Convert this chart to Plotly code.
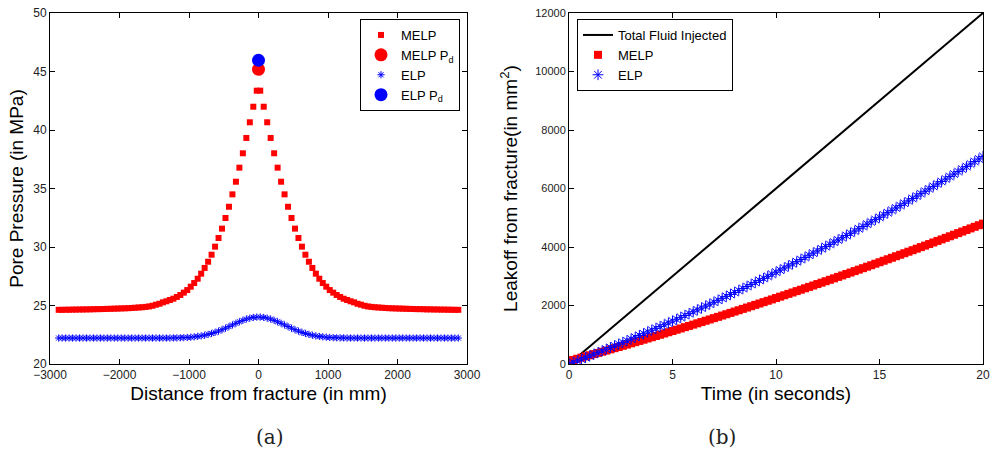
import numpy as np
import plotly.graph_objects as go

# ---------------- Panel (a): pore pressure vs distance from the fracture ----------------
distance_mm = np.arange(-2875, 2876, 50)

melp_left = [24.63, 24.63, 24.64, 24.64, 24.65, 24.65, 24.66, 24.66, 24.67, 24.67,
             24.68, 24.69, 24.69, 24.70, 24.71, 24.72, 24.73, 24.74, 24.75, 24.76,
             24.77, 24.79, 24.81, 24.83, 24.85, 24.88, 24.92, 24.98, 25.07, 25.15,
             25.27, 25.36, 25.47, 25.58, 25.73, 25.90, 26.10, 26.32, 26.61, 26.92,
             27.29, 27.72, 28.21, 28.74, 29.34, 30.03, 30.77, 31.57, 32.48, 33.44,
             34.50, 35.58, 36.78, 38.01, 39.32, 40.66, 41.99, 43.36]
melp_right = [43.36, 41.99, 40.66, 39.32, 38.01, 36.78, 35.58, 34.50, 33.44, 32.48,
              31.57, 30.77, 30.03, 29.34, 28.74, 28.21, 27.72, 27.29, 26.92, 26.61,
              26.32, 26.10, 25.90, 25.73, 25.58, 25.47, 25.36, 25.27, 25.15, 25.07,
              24.98, 24.92, 24.88, 24.85, 24.83, 24.81, 24.79, 24.77, 24.76, 24.75,
              24.74, 24.73, 24.72, 24.71, 24.70, 24.69, 24.69, 24.68, 24.67, 24.67,
              24.66, 24.66, 24.65, 24.65, 24.64, 24.64, 24.63, 24.63]

elp_left = [22.22, 22.22, 22.22, 22.22, 22.22, 22.22, 22.22, 22.22, 22.22, 22.22,
            22.22, 22.22, 22.22, 22.22, 22.22, 22.22, 22.22, 22.22, 22.22, 22.22,
            22.22, 22.22, 22.22, 22.22, 22.22, 22.22, 22.22, 22.22, 22.22, 22.22,
            22.22, 22.22, 22.22, 22.23, 22.23, 22.24, 22.25, 22.27, 22.29, 22.32,
            22.36, 22.40, 22.46, 22.53, 22.61, 22.70, 22.81, 22.93, 23.06, 23.20,
            23.34, 23.48, 23.61, 23.73, 23.84, 23.92, 23.98, 24.01]
elp_right = [24.01, 23.98, 23.92, 23.84, 23.73, 23.61, 23.48, 23.34, 23.20, 23.06,
             22.93, 22.81, 22.70, 22.61, 22.53, 22.46, 22.40, 22.36, 22.32, 22.29,
             22.27, 22.25, 22.24, 22.23, 22.23, 22.22, 22.22, 22.22, 22.22, 22.22,
             22.22, 22.22, 22.22, 22.22, 22.22, 22.22, 22.22, 22.22, 22.22, 22.22,
             22.22, 22.22, 22.22, 22.22, 22.22, 22.22, 22.22, 22.22, 22.22, 22.22,
             22.22, 22.22, 22.22, 22.22, 22.22, 22.22, 22.22, 22.22]

melp_pressure = melp_left + melp_right
elp_pressure = elp_left + elp_right

pd_distance = [0]
melp_pd = [45.19]
elp_pd = [45.96]

x_ticks_a = [-3000, -2000, -1000, 0, 1000, 2000, 3000]
y_ticks_a = [20, 25, 30, 35, 40, 45, 50]

# ---------------- Panel (b): cumulative leakoff vs time ----------------
time_s = np.linspace(0, 20, 101)
injected_time = [0, 20]
injected_volume = [0, 12000]

melp_leakoff = [100, 139, 179, 218, 258, 298, 338, 378, 419, 459,
                500, 541, 582, 623, 664, 706, 747, 789, 831, 873,
                915, 958, 1000, 1043, 1086, 1129, 1172, 1215, 1259, 1302,
                1346, 1390, 1434, 1479, 1523, 1568, 1612, 1657, 1702, 1747,
                1793, 1838, 1884, 1930, 1976, 2022, 2068, 2115, 2161, 2208,
                2255, 2302, 2349, 2397, 2444, 2492, 2540, 2588, 2636, 2684,
                2733, 2781, 2830, 2879, 2928, 2978, 3027, 3077, 3126, 3176,
                3226, 3276, 3327, 3377, 3428, 3479, 3530, 3581, 3632, 3684,
                3735, 3787, 3839, 3891, 3943, 3996, 4048, 4101, 4154, 4207,
                4260, 4313, 4367, 4420, 4474, 4528, 4582, 4636, 4691, 4745,
                4800]
elp_leakoff = [0, 55, 110, 165, 221, 277, 334, 390, 447, 505,
               562, 620, 679, 737, 796, 856, 915, 975, 1036, 1096,
               1157, 1219, 1280, 1342, 1405, 1467, 1530, 1593, 1657, 1721,
               1785, 1850, 1915, 1980, 2046, 2111, 2178, 2244, 2311, 2378,
               2446, 2514, 2582, 2650, 2719, 2788, 2858, 2928, 2998, 3068,
               3139, 3210, 3282, 3353, 3425, 3498, 3571, 3644, 3717, 3791,
               3865, 3939, 4014, 4089, 4165, 4240, 4316, 4393, 4469, 4546,
               4624, 4701, 4779, 4858, 4936, 5015, 5095, 5174, 5254, 5334,
               5415, 5496, 5577, 5659, 5741, 5823, 5906, 5988, 6072, 6155,
               6239, 6323, 6408, 6493, 6578, 6663, 6749, 6836, 6922, 7009,
               7096]

x_ticks_b = [0, 5, 10, 15, 20]
y_ticks_b = [0, 2000, 4000, 6000, 8000, 10000, 12000]

FONT = "Liberation Sans"
W, H = 994, 454
M_L, M_R, M_T, M_B = 50, 11, 13, 90
PLOT_W = W - M_L - M_R
PLOT_H = H - M_T - M_B


def px_x(px):
    """Horizontal pixel position -> paper fraction."""
    return (px - M_L) / PLOT_W


def px_y(py):
    """Vertical pixel position (from top) -> paper fraction."""
    return (H - M_B - py) / PLOT_H


fig = go.Figure()

# Panel (a) traces
fig.add_trace(go.Scatter(
    x=distance_mm, y=melp_pressure, mode="markers", name="MELP",
    marker=dict(symbol="square", size=6, color="#ff0000", line=dict(width=0)),
    xaxis="x", yaxis="y", legend="legend"))
fig.add_trace(go.Scatter(
    x=pd_distance, y=melp_pd, mode="markers", name="MELP P<sub>d</sub>",
    marker=dict(symbol="circle", size=13, color="#ff0000", line=dict(width=0)),
    xaxis="x", yaxis="y", legend="legend"))
fig.add_trace(go.Scatter(
    x=distance_mm, y=elp_pressure, mode="markers", name="ELP",
    marker=dict(symbol="asterisk-open", size=6, color="#0000ff",
                line=dict(color="#0000ff", width=1)),
    xaxis="x", yaxis="y", legend="legend"))
fig.add_trace(go.Scatter(
    x=pd_distance, y=elp_pd, mode="markers", name="ELP P<sub>d</sub>",
    marker=dict(symbol="circle", size=13, color="#0000ff", line=dict(width=0)),
    xaxis="x", yaxis="y", legend="legend"))

# Panel (b) traces
fig.add_trace(go.Scatter(
    x=injected_time, y=injected_volume, mode="lines", name="Total Fluid Injected",
    line=dict(color="black", width=2),
    xaxis="x2", yaxis="y2", legend="legend2"))
fig.add_trace(go.Scatter(
    x=time_s, y=melp_leakoff, mode="markers", name="MELP",
    marker=dict(symbol="square", size=8, color="#ff0000", line=dict(width=0)),
    xaxis="x2", yaxis="y2", legend="legend2"))
fig.add_trace(go.Scatter(
    x=time_s, y=elp_leakoff, mode="markers", name="ELP",
    marker=dict(symbol="asterisk-open", size=9, color="#0000ff",
                line=dict(color="#0000ff", width=1)),
    xaxis="x2", yaxis="y2", legend="legend2"))

axis_style = dict(
    showline=True, linecolor="black", linewidth=1, mirror="allticks",
    ticks="inside", ticklen=5, tickcolor="black", tickwidth=1,
    showgrid=False, zeroline=False, automargin=False,
)

fig.update_layout(
    width=W, height=H,
    template="plotly_white",
    margin=dict(l=M_L, r=M_R, t=M_T, b=M_B),
    paper_bgcolor="white", plot_bgcolor="white",
    font=dict(family=FONT, color="black", size=12),
    xaxis=dict(
        domain=[px_x(50), px_x(467)], range=[-3000, 3000], tickvals=x_ticks_a,
        tickfont=dict(size=12, color="#222222"),
        title=dict(text="Distance from fracture (in mm)", font=dict(size=19), standoff=5),
        anchor="y", **axis_style),
    yaxis=dict(
        domain=[0, 1], range=[20, 50], tickvals=y_ticks_a,
        tickfont=dict(size=12, color="#222222"),
        title=dict(text="Pore Pressure (in MPa)", font=dict(size=19), standoff=4),
        anchor="x", **axis_style),
    xaxis2=dict(
        domain=[px_x(569), px_x(983)], range=[0, 20], tickvals=x_ticks_b,
        tickfont=dict(size=12, color="#222222"),
        title=dict(text="Time (in seconds)", font=dict(size=19), standoff=5),
        anchor="y2", **axis_style),
    yaxis2=dict(
        domain=[0, 1], range=[0, 12000], tickvals=y_ticks_b, tickformat="d",
        tickfont=dict(size=11, color="#222222"),
        title=dict(text="Leakoff from fracture(in mm<sup>2</sup>)", font=dict(size=19), standoff=12),
        anchor="x2", **axis_style),
    legend=dict(
        x=px_x(460), y=px_y(19), xanchor="right", yanchor="top",
        bgcolor="white", bordercolor="black", borderwidth=1,
        font=dict(size=13, family=FONT), itemsizing="trace", tracegroupgap=0),
    legend2=dict(
        x=px_x(577), y=px_y(19), xanchor="left", yanchor="top",
        bgcolor="white", bordercolor="black", borderwidth=1,
        font=dict(size=13, family=FONT), itemsizing="trace", tracegroupgap=0),
    showlegend=True,
    annotations=[
        dict(text="(a)", x=px_x(270), y=px_y(437), xref="paper", yref="paper",
             xanchor="center", yanchor="middle", showarrow=False,
             font=dict(family="DejaVu Serif", size=20, color="#222222")),
        dict(text="(b)", x=px_x(722), y=px_y(437), xref="paper", yref="paper",
             xanchor="center", yanchor="middle", showarrow=False,
             font=dict(family="DejaVu Serif", size=20, color="#222222")),
    ],
)

fig.write_html("out.html")
